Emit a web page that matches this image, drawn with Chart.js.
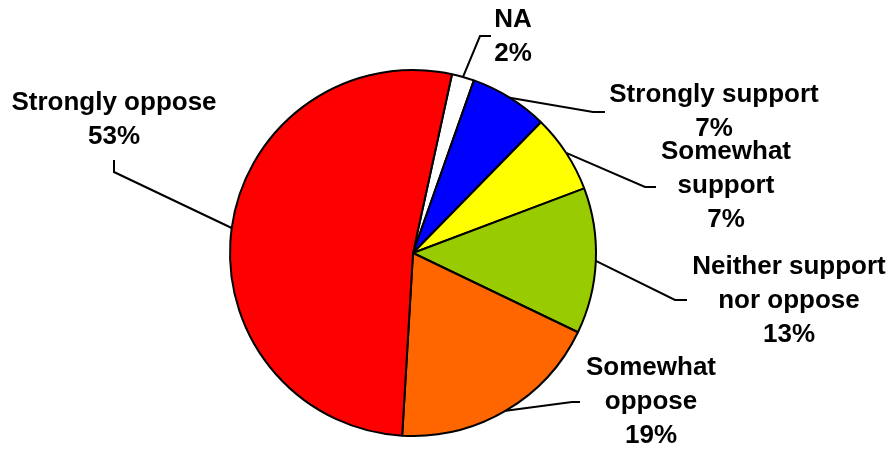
<!DOCTYPE html>
<html>
<head>
<meta charset="utf-8">
<script src="https://cdn.jsdelivr.net/npm/chart.js@4/dist/chart.umd.min.js"></script>
<style>
html,body{margin:0;padding:0;background:#fff;}
#wrap{width:895px;height:449px;position:relative;}
</style>
</head>
<body>
<div id="wrap"><canvas id="c" width="895" height="449"></canvas></div>
<script>
const categories = ["NA", "Strongly support", "Somewhat support", "Neither support nor oppose", "Somewhat oppose", "Strongly oppose"];
const labelLines = [["NA"], ["Strongly support"], ["Somewhat", "support"], ["Neither support", "nor oppose"], ["Somewhat", "oppose"], ["Strongly oppose"]];
const values = [2, 7, 7, 13, 19, 53];
const colors = ["#FFFFFF", "#0000FF", "#FFFF00", "#99CC00", "#FF6600", "#FF0000"];

// label placement (layout only)
const labelLayout = [
  {cx: 513, y: 20, elbow: [480, 36], end: [491, 36]},
  {cx: 714, y: 95, elbow: [593, 112], end: [605, 112]},
  {cx: 726, y: 152, elbow: [645, 187], end: [656, 187]},
  {cx: 789, y: 267, elbow: [675, 300], end: [687, 300]},
  {cx: 651, y: 368, elbow: [572, 402], end: [580, 402]},
  {cx: 114, y: 103, elbow: [114, 172], end: [114, 160]}
];

const labelPlugin = {
  id: 'pieLabels',
  afterDatasetsDraw(chart) {
    const ctx = chart.ctx;
    const meta = chart.getDatasetMeta(0);
    ctx.save();
    ctx.strokeStyle = '#000';
    ctx.lineWidth = 2;
    ctx.fillStyle = '#000';
    ctx.font = 'bold 26px "Liberation Sans", Arial, sans-serif';
    ctx.textAlign = 'center';
    ctx.textBaseline = 'middle';
    meta.data.forEach((arc, i) => {
      const p = arc.getProps(['x', 'y', 'startAngle', 'endAngle', 'outerRadius'], true);
      const mid = (p.startAngle + p.endAngle) / 2;
      const ax = p.x + Math.cos(mid) * p.outerRadius;
      const ay = p.y + Math.sin(mid) * p.outerRadius;
      const L = labelLayout[i];
      ctx.beginPath();
      ctx.moveTo(ax, ay);
      ctx.lineTo(L.elbow[0], L.elbow[1]);
      ctx.lineTo(L.end[0], L.end[1]);
      ctx.stroke();
      const lines = labelLines[i].concat([values[i] + '%']);
      lines.forEach((t, k) => ctx.fillText(t, L.cx, L.y + k * 34));
    });
    ctx.restore();
  }
};

new Chart(document.getElementById('c'), {
  type: 'pie',
  data: {
    labels: categories,
    datasets: [{
      data: values,
      backgroundColor: colors,
      borderColor: '#000',
      borderWidth: 2,
      borderAlign: 'center'
    }]
  },
  options: {
    responsive: false,
    animation: false,
    rotation: 12.3,
    radius: 183,
    layout: {padding: {left: 0, right: 69, top: 63, bottom: 6}},
    plugins: {legend: {display: false}, tooltip: {enabled: false}}
  },
  plugins: [labelPlugin]
});
</script>
</body>
</html>
